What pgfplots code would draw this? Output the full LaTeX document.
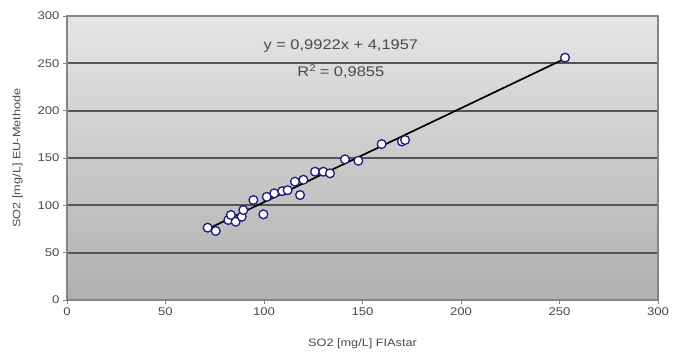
\documentclass[border=0pt]{standalone}
\usepackage{pgfplots}
\pgfplotsset{compat=1.18}
\usepackage{fontspec}
\setmainfont[FakeStretch=1.18]{Liberation Sans}
\definecolor{txt}{HTML}{4A4A4A}
\definecolor{gridc}{HTML}{555555}
\definecolor{axc}{HTML}{858585}
\definecolor{mk}{HTML}{1C1C80}
\begin{document}
\begin{tikzpicture}[x=1bp,y=1bp]
\begin{axis}[name=ax,
  scale only axis, width=591bp, height=284bp,
  xmin=0, xmax=300, ymin=0, ymax=300,
  xtick={0,50,...,300}, ytick={0,50,...,300},
  tick align=outside, tick pos=left,
  major tick length=4bp,
  every tick/.style={axc, line width=0.9pt},
  axis line style={axc, line width=1.3pt},
  ymajorgrids, grid style={gridc, line width=1.7pt},
  axis background/.style={shade, top color=black!10, bottom color=black!31},
  /pgf/number format/assume math mode=true,
  ticklabel style={font=\fontsize{11.2}{13}\selectfont, text=txt},
  label style={font=\fontsize{10.8}{12}\selectfont, text=txt},
  xlabel={SO2 [mg/L] FIAstar},
  ylabel={SO2 [mg/L] EU-Methode},
  xlabel style={yshift=-16bp},
  ylabel style={yshift=8bp},
  clip=false,
]
\addplot[black, line width=1.7pt, forget plot] coordinates {(71.4,75.0) (252.8,255.0)};
\addplot[only marks, mark=*, mark size=4.4pt, mark options={draw=mk, fill=white, line width=1.3pt}] coordinates {
(71.4,76.4) (75.5,72.9) (81.9,84.5) (83.2,89.8) (85.6,82.7) (88.7,88) (89.5,95)
(94.6,105.6) (99.7,90.5) (101.4,109) (105.2,112.7) (109.3,115) (112,116)
(115.7,125) (118.3,110.9) (120,127) (125.9,135.5) (130.1,135.5) (133.5,133.8)
(141.1,148.6) (147.9,147.1) (159.7,164.7) (170,167.5) (171.6,169) (252.8,256)
};
\node[font=\fontsize{14}{16}\selectfont, text=txt] at (axis cs:139,268) {y = 0,9922x + 4,1957};
\node[font=\fontsize{14}{16}\selectfont, text=txt] at (axis cs:139,241) {R$^{\mathrm{2}}$ = 0,9855};
\end{axis}
\pgfresetboundingbox
\path[use as bounding box] ([shift={(-67bp,-58bp)}]ax.south west) rectangle ([shift={(17bp,16bp)}]ax.north east);
\end{tikzpicture}
\end{document}
